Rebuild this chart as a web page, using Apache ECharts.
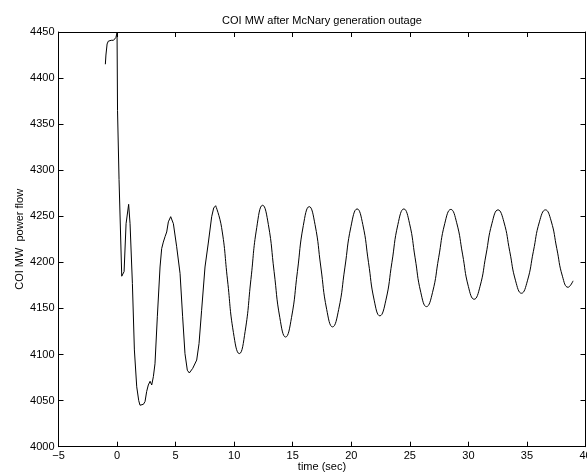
<!DOCTYPE html>
<html>
<head>
<meta charset="utf-8">
<title>COI MW after McNary generation outage</title>
<script src="https://cdn.jsdelivr.net/npm/echarts@6/dist/echarts.min.js"></script>
<style>
  html, body { margin: 0; padding: 0; background: #ffffff; }
  #chart { width: 587px; height: 476px; }
</style>
</head>
<body>
<div id="chart"></div>
<script>
// Chart text
const chartTitle = 'COI MW after McNary generation outage';
const timeAxisName = 'time (sec)';
const flowAxisName = 'COI MW  power flow';

// Axis ticks
const timeTicks = [-5, 0, 5, 10, 15, 20, 25, 30, 35, 40];
const flowTicks = [4000, 4050, 4100, 4150, 4200, 4250, 4300, 4350, 4400, 4450];

// Pre-outage level, the trip at t = 0 and the first irregular swings
const transientTime = [-1.0, -0.95, -0.85, -0.75, -0.5, -0.3, -0.1, 0.0, 0.04, 0.17, 0.4,
  0.6, 0.77, 0.99, 1.11, 1.31, 1.48, 1.68, 1.85, 1.96, 2.1, 2.25, 2.39, 2.53, 2.67, 2.82,
  2.96, 3.1, 3.24, 3.44, 3.67, 3.81, 3.95, 4.1, 4.24, 4.38, 4.58, 4.81, 5.09, 5.38, 5.6,
  5.8, 6.0, 6.17, 6.46, 6.8, 7.0, 7.22, 7.51, 7.79, 8.08, 8.25, 8.42];
const transientMW = [4415, 4425, 4437, 4440, 4441, 4441, 4444, 4449, 4365, 4290, 4185,
  4190, 4242, 4263, 4242, 4177, 4105, 4065, 4050, 4045, 4044, 4046, 4049, 4060, 4067, 4071,
  4067, 4076, 4090, 4141, 4195, 4215, 4222, 4228, 4233, 4244, 4249.6, 4242, 4217, 4188, 4141,
  4101, 4083, 4080, 4085, 4094, 4112, 4148, 4195, 4221, 4249.6, 4259, 4261.5];

// Damped inter-area oscillation, read at roughly eighth-period steps
const swingTime = [8.42, 8.925, 9.43, 9.935, 10.44, 10.935, 11.43, 11.93, 12.43, 12.92,
  13.41, 13.9, 14.39, 14.895, 15.4, 15.905, 16.41, 16.905, 17.4, 17.9, 18.4, 18.925,
  19.45, 19.975, 20.5, 20.985, 21.47, 21.955, 22.44, 22.955, 23.47, 23.98, 24.49, 24.97,
  25.45, 25.935, 26.42, 26.94, 27.46, 27.98, 28.5, 29.0, 29.5, 29.995, 30.49, 30.995,
  31.5, 32.015, 32.53, 33.03, 33.53, 34.03, 34.53, 35.04, 35.55, 36.065, 36.58, 37.065,
  37.55, 38.03, 38.51, 38.94];
const swingMW = [4261.5, 4238, 4181, 4124, 4101, 4125, 4181.5, 4238, 4262, 4241,
  4190, 4140, 4119, 4140, 4190, 4240, 4260.5, 4241, 4195, 4149, 4130, 4149,
  4194, 4239, 4258, 4241, 4200, 4159, 4142, 4159, 4200, 4241, 4258, 4242.5,
  4205, 4167.5, 4152, 4167.5, 4205, 4242, 4257.5, 4243, 4209, 4174, 4160, 4174,
  4208, 4242.5, 4257, 4244, 4212, 4180, 4166.5, 4180, 4212, 4244, 4257, 4245,
  4215, 4185, 4173, 4180];

const font = 'Liberation Sans, Arial, Helvetica, sans-serif';
const ink = '#000000';

function pairs(xs, ys) {
  return xs.map((x, i) => [x, ys[i]]);
}

// Plain numbers with a true minus sign, no thousands separator
function plainLabel(v) {
  return String(v).replace('-', '\u2212');
}

const tickStep = (arr) => arr[1] - arr[0];

const frameLine = { show: true, onZero: false, lineStyle: { color: ink, width: 1 } };
const innerTick = { show: true, inside: true, length: 5, lineStyle: { color: ink, width: 1 } };

const timeAxisBase = {
  type: 'value',
  min: timeTicks[0],
  max: timeTicks[timeTicks.length - 1],
  interval: tickStep(timeTicks),
  axisLine: frameLine,
  axisTick: innerTick,
  splitLine: { show: false }
};
const flowAxisBase = {
  type: 'value',
  min: flowTicks[0],
  max: flowTicks[flowTicks.length - 1],
  interval: tickStep(flowTicks),
  axisLine: frameLine,
  axisTick: innerTick,
  splitLine: { show: false }
};

const chart = echarts.init(document.getElementById('chart'), null, { renderer: 'canvas' });

chart.setOption({
  animation: false,
  backgroundColor: '#ffffff',
  textStyle: { fontFamily: font },
  grid: {
    left: 58.5, right: 1.5, top: 32, bottom: 29.3,
    containLabel: false,
    outerBoundsMode: 'none'
  },
  graphic: [{
    type: 'text',
    x: 322,
    y: 21,
    style: {
      text: chartTitle,
      font: '11px ' + font,
      fill: ink,
      align: 'center',
      verticalAlign: 'middle'
    }
  }],
  xAxis: [
    Object.assign({}, timeAxisBase, {
      position: 'bottom',
      name: timeAxisName,
      nameLocation: 'middle',
      nameGap: 15,
      nameMoveOverlap: false,
      nameTextStyle: { color: ink, fontSize: 11, fontFamily: font },
      axisLabel: {
        color: ink, fontSize: 11, fontFamily: font, margin: 4,
        formatter: plainLabel, showMinLabel: true, showMaxLabel: true
      }
    }),
    Object.assign({}, timeAxisBase, {
      position: 'top',
      axisLabel: { show: false }
    })
  ],
  yAxis: [
    Object.assign({}, flowAxisBase, {
      position: 'left',
      name: flowAxisName,
      nameLocation: 'middle',
      nameGap: 33,
      nameRotate: 90,
      nameMoveOverlap: false,
      nameTextStyle: { color: ink, fontSize: 11, fontFamily: font },
      axisLabel: {
        color: ink, fontSize: 11, fontFamily: font, margin: 4,
        formatter: plainLabel, showMinLabel: true, showMaxLabel: true
      }
    }),
    Object.assign({}, flowAxisBase, {
      position: 'right',
      axisLabel: { show: false }
    })
  ],
  series: [
    {
      name: 'COI flow (transient)',
      type: 'line',
      xAxisIndex: 0,
      yAxisIndex: 0,
      data: pairs(transientTime, transientMW),
      showSymbol: false,
      smooth: false,
      lineStyle: { color: ink, width: 1 },
      clip: true
    },
    {
      name: 'COI flow (oscillation)',
      type: 'line',
      xAxisIndex: 0,
      yAxisIndex: 0,
      data: pairs(swingTime, swingMW),
      showSymbol: false,
      smooth: true,
      lineStyle: { color: ink, width: 1 },
      clip: true
    }
  ]
});
</script>
</body>
</html>
